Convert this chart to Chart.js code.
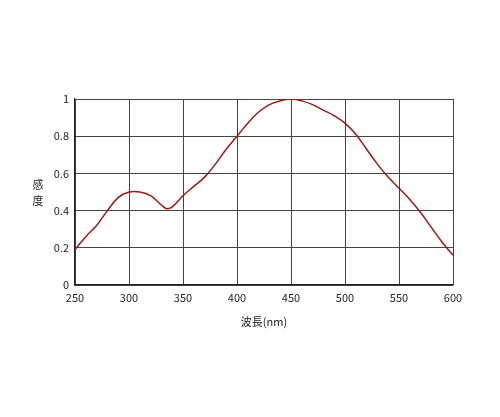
<!DOCTYPE html><html><head><meta charset="utf-8">
<script src="https://cdn.jsdelivr.net/npm/chart.js@4"></script>
<style>body{margin:0;background:#fff}#w{width:500px;height:417px}</style></head><body><div id="w"><canvas id="c"></canvas></div>
<script>
const wavelengths=[250,260,270,280,290,300,310,320,330,335,340,350,360,370,380,390,400,410,420,430,440,450,460,470,480,490,500,510,520,530,540,550,560,570,580,590,600];
const sensitivity=[0.19,0.26,0.32,0.40,0.47,0.50,0.50,0.48,0.43,0.41,0.42,0.48,0.53,0.58,0.65,0.73,0.80,0.87,0.93,0.97,0.99,1.0,0.99,0.97,0.94,0.91,0.87,0.81,0.73,0.65,0.58,0.52,0.46,0.39,0.31,0.23,0.16];
const yTitle=["感","度"], xTitle="波長(nm)";
const font="'Noto Sans CJK JP', sans-serif";
const labels={id:'lbl',afterDraw(ch){const c=ch.ctx;c.save();c.fillStyle='#222';c.font="11px "+font;c.textAlign='center';c.textBaseline='middle';
c.fillText(yTitle[0],38,185);c.fillText(yTitle[1],38,201);
c.fillText(xTitle,ch.chartArea.left+(ch.chartArea.right-ch.chartArea.left)/2,322);c.restore();}};
new Chart(document.getElementById('c'),{type:'line',
data:{datasets:[{data:wavelengths.map((x,i)=>({x,y:sensitivity[i]})),borderColor:'#9b1a12',borderWidth:1.5,pointRadius:0,tension:0.4}]},
options:{responsive:true,maintainAspectRatio:false,animation:false,layout:{padding:{top:99,right:47,left:0,bottom:0}},
plugins:{legend:{display:false},tooltip:{enabled:false}},
scales:{x:{type:'linear',min:250,max:600,ticks:{stepSize:50,color:'#222',font:{size:11,family:font},padding:6},grid:{color:'#444',drawTicks:false},border:{color:'#222',width:1.2},afterFit(s){s.height=132;}},
y:{min:0,max:1,ticks:{stepSize:0.2,color:'#222',font:{size:11,family:font},padding:6,callback:v=>Math.round(v*10)/10},grid:{color:'#444',drawTicks:false},border:{color:'#222',width:1.2},afterFit(s){s.width=75;}}}},
plugins:[labels]});
</script></body></html>
